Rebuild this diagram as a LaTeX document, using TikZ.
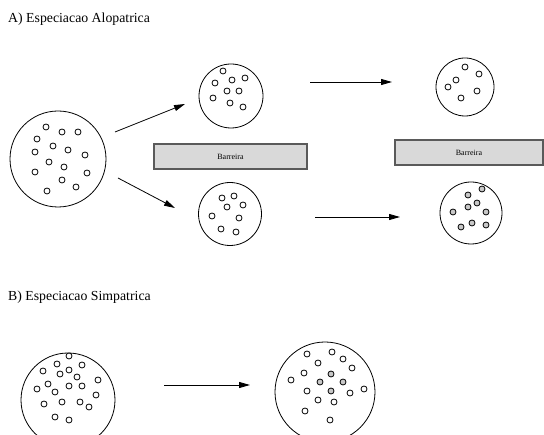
\documentclass[tikz,border=0pt]{standalone}
\usepackage{fontspec}
\setmainfont{Liberation Serif}
\usetikzlibrary{arrows.meta}
\definecolor{dotgray}{RGB}{200,200,200}
\definecolor{barfill}{RGB}{217,217,217}
\definecolor{barline}{RGB}{90,90,90}
\tikzset{
  pop/.style={draw=black, line width=0.8pt, circle, inner sep=0pt, minimum size=#1},
  dot/.style={draw=black, line width=0.8pt, fill=white},
  gdot/.style={draw=black, line width=0.8pt, fill=dotgray},
  barrier/.style={draw=barline, line width=1.3pt, fill=barfill, inner sep=0pt, font=\fontsize{8}{9}\selectfont},
  flow/.style={-{Triangle[length=11pt,width=6pt]}, line width=0.8pt},
  title/.style={anchor=west, inner sep=0pt, font=\fontsize{13.8}{15}\selectfont}
}
\begin{document}
\begin{tikzpicture}[x=1pt,y=-1pt]
\useasboundingbox (0,0) rectangle (544,435);
\clip (0,0) rectangle (544,435);
\fill[white] (0,0) rectangle (544,435);

% titles
\node[title] (tA) at (8,19) {A) Especiacao Alopatrica};
\node[title] (tB) at (8,297) {B) Especiacao Simpatrica};

% A: populations
\node[pop=96pt] (p0) at (58,159) {};
\node[pop=64pt] (p1) at (231,96) {};
\node[pop=58pt] (p2) at (465,87) {};
\node[pop=63pt] (p3) at (230,214) {};
\node[pop=62pt] (p4) at (471,213) {};

% barriers
\node[barrier, minimum width=153pt, minimum height=25pt] (b1) at (230.5,156.5) {Barreira};
\node[barrier, minimum width=148pt, minimum height=25pt] (b2) at (469,152.5) {Barreira};

% dots p0
\foreach \x/\y in {46/127,62/132,78/132,37/139,53/146,68/150,35/152,85/155,49/162,64/167,35/172,87/173,62/180,76/187,47/191}
  \draw[dot] (\x,\y) circle (3pt);
% dots p1
\foreach \x/\y in {223/71,215/83,232/80,245/78,227/91,239/91,213/98,230/103,243/107}
  \draw[dot] (\x,\y) circle (3pt);
% dots p2
\foreach \x/\y in {465/67,479/74,456/80,448/87,477/91,461/98}
  \draw[dot] (\x,\y) circle (3pt);
% dots p3
\foreach \x/\y in {222/198,234/196,227/207,243/205,212/216,239/218,221/229,236/232}
  \draw[dot] (\x,\y) circle (3pt);
% dots p4 (gray)
\foreach \x/\y in {482/189,468/195,477/203,468/207,453/212,486/212,461/227,472/223,486/225}
  \draw[gdot] (\x,\y) circle (3pt);

% A arrows
\coordinate (a1s) at (115,132);
\coordinate (a1e) at (185,104);
\coordinate (a2s) at (118,178);
\coordinate (a2e) at (175,208);
\coordinate (a3s) at (310,82);
\coordinate (a3e) at (392,82);
\coordinate (a4s) at (315,217);
\coordinate (a4e) at (400,217);
\draw[flow] (a1s) -- (a1e);
\draw[flow] (a2s) -- (a2e);
\draw[flow] (a3s) -- (a3e);
\draw[flow] (a4s) -- (a4e);

% B: populations
\node[pop=94pt] (q0) at (68,400) {};
\node[pop=100pt] (q1) at (325,392) {};

\foreach \x/\y in {69/356,57/364,82/365,43/371,69/370,60/374,77/377,98/380,48/384,69/386,82/386,37/389,55/392,96/395,44/404,62/402,80/402,89/407,55/417,69/420}
  \draw[dot] (\x,\y) circle (3pt);
\foreach \x/\y in {307/354,332/352,343/359,318/363,352/368,304/373,291/380,307/391,350/393,364/389,318/400,334/402,305/411,330/420}
  \draw[dot] (\x,\y) circle (3pt);
\foreach \x/\y in {331/374,320/382,343/382,331/391}
  \draw[gdot] (\x,\y) circle (3pt);

\coordinate (b1s) at (164,385);
\coordinate (b1e) at (250,385);
\draw[flow] (b1s) -- (b1e);
\end{tikzpicture}
\end{document}
